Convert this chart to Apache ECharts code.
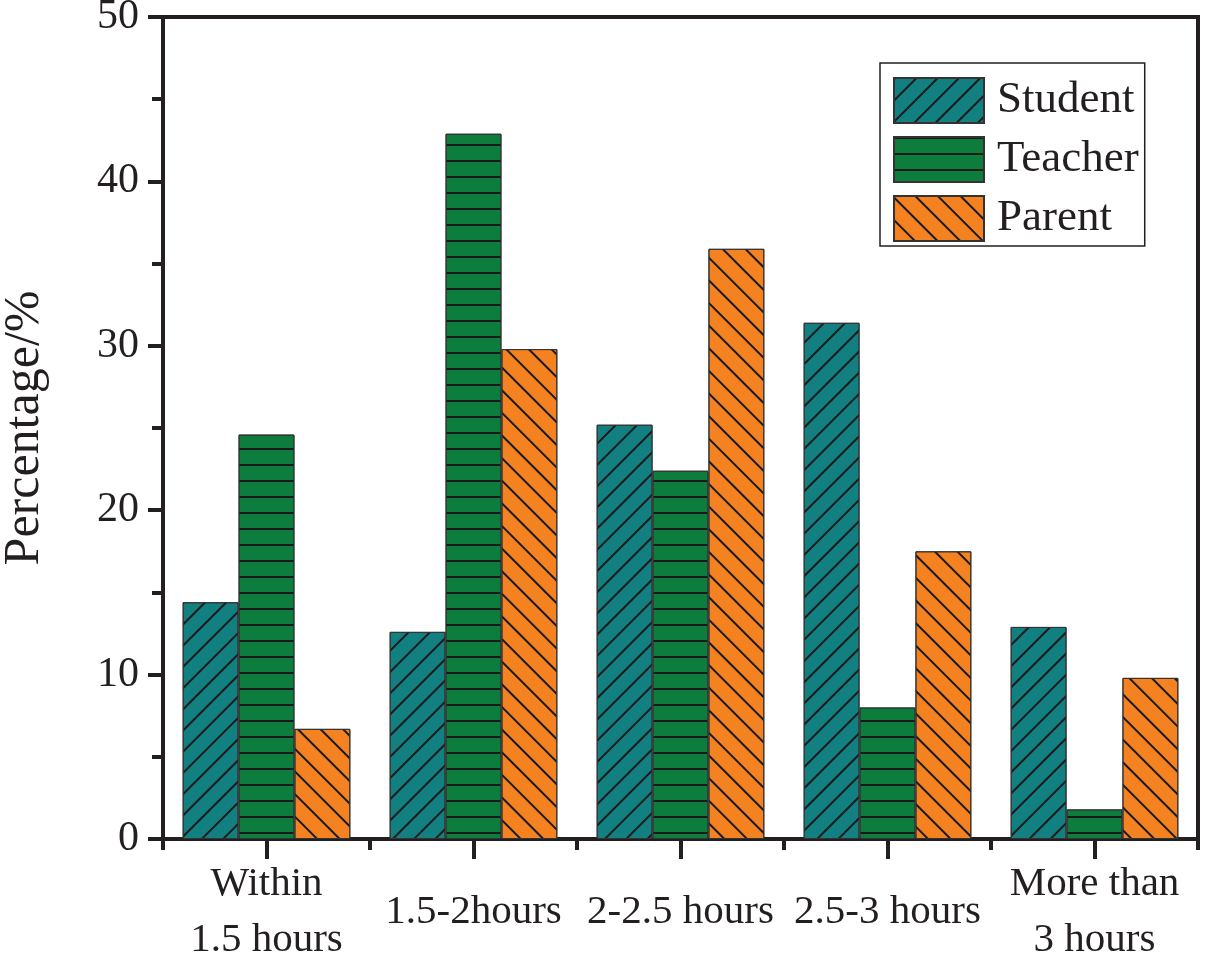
<!DOCTYPE html>
<html>
<head>
<meta charset="utf-8">
<script src="https://cdn.jsdelivr.net/npm/echarts@6/dist/echarts.min.js"></script>
<style>
html,body{margin:0;padding:0;background:#fff;}
#chart{width:1205px;height:960px;}
</style>
</head>
<body>
<div id="chart"></div>
<script>
var categories = ['Within\n1.5 hours', '1.5-2hours', '2-2.5 hours', '2.5-3 hours', 'More than\n3 hours'];
var seriesNames = ['Student', 'Teacher', 'Parent'];
var studentValues = [14.4, 12.6, 25.2, 31.4, 12.9];
var teacherValues = [24.6, 42.9, 22.4, 8.0, 1.8];
var parentValues = [6.7, 29.8, 35.9, 17.5, 9.8];
var yTicks = [0, 10, 20, 30, 40, 50];

var FONT = '"Liberation Serif", "Times New Roman", serif';
var INK = '#231f20';

var chart = echarts.init(document.getElementById('chart'));

function barSeries(name, values, color, decal) {
  return {
    name: name,
    type: 'bar',
    xAxisIndex: 0,
    yAxisIndex: 0,
    data: values,
    barGap: '0%',
    barCategoryGap: '19%',
    itemStyle: {
      color: color,
      borderColor: '#333',
      borderWidth: 1,
      decal: decal
    },
    emphasis: { disabled: true }
  };
}

var option = {
  backgroundColor: '#fff',
  animation: false,
  grid: {
    left: 163, right: 7, top: 17, bottom: 121,
    containLabel: false,
    outerBoundsMode: 'none',
    show: true, borderColor: INK, borderWidth: 4, backgroundColor: 'transparent'
  },
  legend: {
    orient: 'vertical',
    left: 880, top: 63,
    padding: [14, 6, 4, 13],
    itemWidth: 90, itemHeight: 45, itemGap: 12,
    borderColor: INK, borderWidth: 1.5,
    backgroundColor: '#fff',
    icon: 'rect',
    data: seriesNames,
    textStyle: { fontFamily: FONT, fontSize: 45, color: INK, padding: [0, 0, 0, 8] }
  },
  xAxis: [
    {
      type: 'category',
      data: categories,
      position: 'bottom',
      axisLine: { show: true, lineStyle: { color: INK, width: 4 } },
      axisTick: { show: true, alignWithLabel: true, length: 20, lineStyle: { color: INK, width: 4 } },
      axisLabel: {
        fontFamily: FONT, fontSize: 41, color: INK,
        margin: 73, verticalAlign: 'middle', lineHeight: 56, interval: 0
      },
      splitLine: { show: false }
    },
    {
      type: 'category',
      data: categories,
      position: 'bottom',
      gridIndex: 0,
      axisLine: { show: false },
      axisTick: { show: true, interval: 0, length: 11, lineStyle: { color: INK, width: 4 } },
      axisLabel: { show: false },
      splitLine: { show: false }
    }
  ],
  yAxis: {
    type: 'value',
    min: 0, max: 50, interval: 10,
    name: 'Percentage/%',
    nameLocation: 'middle',
    nameGap: 113,
    nameTextStyle: { fontFamily: FONT, fontSize: 50, color: INK },
    axisLine: { show: true, lineStyle: { color: INK, width: 4 } },
    axisTick: { show: true, length: 15, lineStyle: { color: INK, width: 4 } },
    minorTick: { show: true, splitNumber: 2, length: 11, lineStyle: { color: INK, width: 4 } },
    axisLabel: {
      fontFamily: FONT, fontSize: 42, color: INK, margin: 24,
      customValues: yTicks
    },
    splitLine: { show: false }
  },
  series: [
    barSeries(seriesNames[0], studentValues, '#127f80', {
      symbol: 'rect', symbolSize: 1, color: '#1a1a1a',
      dashArrayX: [1, 0], dashArrayY: [2, 13], rotation: -Math.PI / 4
    }),
    barSeries(seriesNames[1], teacherValues, '#0c7d3c', {
      symbol: 'rect', symbolSize: 1, color: '#1a1a1a',
      dashArrayX: [1, 0], dashArrayY: [2, 14], rotation: 0
    }),
    barSeries(seriesNames[2], parentValues, '#f58220', {
      symbol: 'rect', symbolSize: 1, color: '#1a1a1a',
      dashArrayX: [1, 0], dashArrayY: [2, 14], rotation: Math.PI / 4
    })
  ]
};

chart.setOption(option);
</script>
</body>
</html>
